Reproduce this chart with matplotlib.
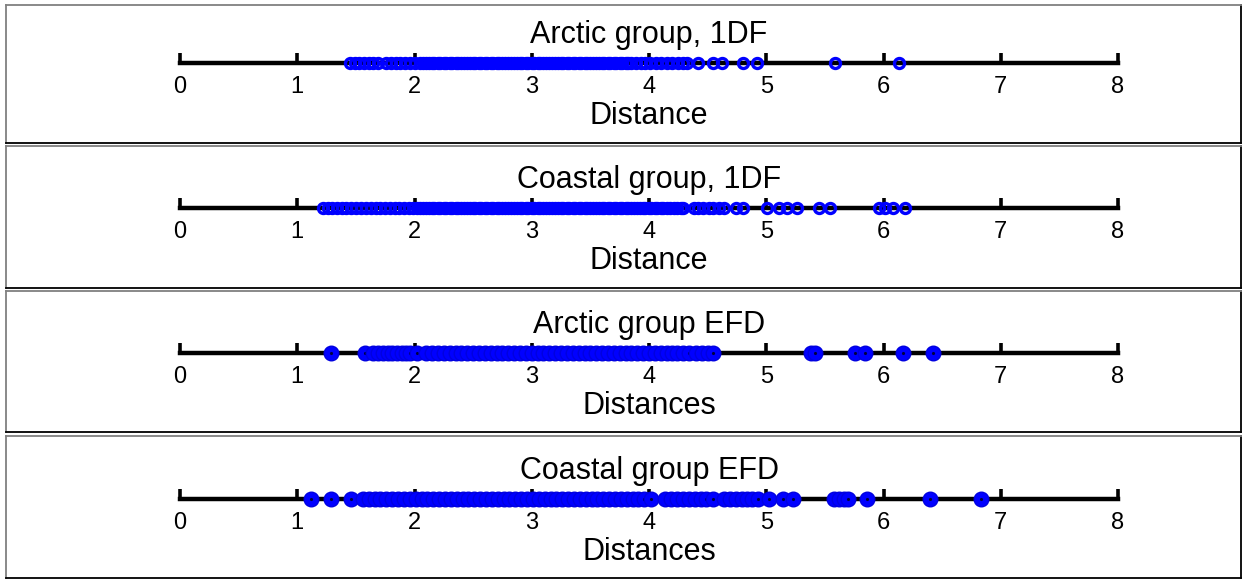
import matplotlib
matplotlib.use("Agg")
import matplotlib.pyplot as plt

W, H = 1242, 581

titles = ["Arctic group, 1DF", "Coastal group, 1DF", "Arctic group EFD", "Coastal group EFD"]
xlabels = ["Distance", "Distance", "Distances", "Distances"]
tick_values = [0, 1, 2, 3, 4, 5, 6, 7, 8]

arctic_1df = [
    1.45, 1.49, 1.53, 1.57, 1.61, 1.65, 1.69,
    1.76, 1.80, 1.84, 1.88, 1.92, 1.96, 2.00,
    2.05, 2.07, 2.10, 2.12, 2.15, 2.17, 2.20, 2.22, 2.25, 2.27,
    2.30, 2.32, 2.35, 2.37, 2.40, 2.42, 2.45, 2.47, 2.50, 2.52,
    2.55, 2.57, 2.60, 2.62, 2.65, 2.67, 2.70, 2.72, 2.75, 2.77,
    2.80, 2.82, 2.85, 2.87, 2.90, 2.92, 2.95, 2.97, 3.00, 3.02,
    3.05, 3.07, 3.10, 3.12, 3.15, 3.17, 3.20, 3.22, 3.25, 3.27,
    3.30, 3.32, 3.35, 3.37, 3.40, 3.42, 3.45, 3.47, 3.50, 3.52,
    3.55, 3.57, 3.60, 3.62, 3.65, 3.67, 3.70, 3.72, 3.75, 3.77,
    3.80, 3.82, 3.85,
    3.89, 3.93, 3.97, 4.01, 4.06, 4.10, 4.15, 4.20, 4.25, 4.29, 4.32,
    4.42, 4.55, 4.62, 4.80, 4.92, 5.59, 6.13,
]

coastal_1df = [
    1.22, 1.26, 1.30, 1.34, 1.38, 1.42, 1.46, 1.50, 1.54,
    1.59, 1.63, 1.67, 1.71, 1.75, 1.79, 1.83, 1.87, 1.91, 1.95, 1.99,
    2.02, 2.05, 2.07, 2.10, 2.12, 2.15, 2.17, 2.20, 2.22, 2.25, 2.27,
    2.30, 2.32, 2.35, 2.37, 2.40, 2.42, 2.45, 2.47, 2.50, 2.52,
    2.55, 2.57, 2.60, 2.62, 2.65, 2.67, 2.70, 2.72, 2.75, 2.77,
    2.80, 2.82, 2.85, 2.87, 2.90, 2.92, 2.95, 2.97, 3.00, 3.02,
    3.05, 3.07, 3.10, 3.12, 3.15, 3.17, 3.20, 3.22, 3.25, 3.27,
    3.30, 3.32, 3.35, 3.37, 3.40, 3.42, 3.45, 3.47, 3.50, 3.52,
    3.55, 3.57, 3.60, 3.62, 3.65, 3.67, 3.70, 3.72, 3.75, 3.77,
    3.80, 3.82, 3.85, 3.87, 3.90, 3.92, 3.95, 3.97, 4.00, 4.02,
    4.05, 4.07, 4.10, 4.12, 4.15, 4.18, 4.21, 4.24, 4.27, 4.29,
    4.38, 4.42, 4.46, 4.51, 4.55, 4.60, 4.64, 4.74, 4.80,
    5.01, 5.11, 5.18, 5.26, 5.45, 5.54, 5.96, 6.01, 6.08, 6.18,
]

arctic_efd = [
    1.29, 1.58,
    1.65, 1.69, 1.73, 1.77, 1.81, 1.85, 1.89, 1.93, 1.96, 2.02,
    2.10, 2.15, 2.20, 2.25, 2.30, 2.35, 2.40, 2.45, 2.50, 2.55,
    2.60, 2.65, 2.70, 2.75, 2.80, 2.85, 2.90, 2.95, 3.00, 3.05,
    3.10, 3.15, 3.20, 3.25, 3.30, 3.35, 3.40, 3.45, 3.50, 3.55,
    3.60, 3.65, 3.70, 3.75, 3.80, 3.85, 3.90, 3.95, 4.00, 4.05,
    4.10, 4.15, 4.20, 4.24,
    4.29, 4.34, 4.40, 4.45, 4.50, 4.55,
    5.38, 5.42, 5.76, 5.84, 6.17, 6.42,
]

coastal_efd = [
    1.12, 1.29, 1.46,
    1.56, 1.61, 1.66, 1.71, 1.76, 1.81, 1.86, 1.91, 1.96, 2.01,
    2.06, 2.11, 2.16, 2.21, 2.26, 2.31, 2.36, 2.41, 2.46, 2.51,
    2.56, 2.61, 2.66, 2.71, 2.76, 2.81, 2.86, 2.91, 2.96, 3.01,
    3.06, 3.11, 3.16, 3.21, 3.26, 3.31, 3.36, 3.41, 3.46, 3.51,
    3.56, 3.61, 3.66, 3.71, 3.76, 3.81, 3.86, 3.91, 3.96, 4.02,
    4.14, 4.19, 4.24, 4.29, 4.34, 4.39, 4.44, 4.49, 4.55,
    4.64, 4.69, 4.74, 4.79, 4.84, 4.88, 4.93, 5.02, 5.14, 5.23,
    5.58, 5.62, 5.66, 5.70, 5.86, 6.40, 6.83,
]

series = [arctic_1df, coastal_1df, arctic_efd, coastal_efd]
filled = [False, False, True, True]

# panel boxes in pixels (top, bottom) and the pixel positions of x = 0 and x = 8
panel_tops = [5, 146, 291, 436]
panel_bottoms = [143, 288, 432, 578]
line_rel = [58, 62, 62, 63]
x0_px, x8_px = 180, 1118
left_px, right_px = 6, 1241

px_per_unit = (x8_px - x0_px) / 8.0
xmin = -(x0_px - left_px) / px_per_unit
xmax = 8 + (right_px - x8_px) / px_per_unit

plt.rcParams["font.family"] = ["Liberation Sans", "DejaVu Sans"]

fig = plt.figure(figsize=(W / 100, H / 100), dpi=100)

for i in range(4):
    top, bot = panel_tops[i], panel_bottoms[i]
    ax = fig.add_axes([left_px / W, 1 - bot / H, (right_px - left_px) / W, (bot - top) / H])
    ax.set_xlim(xmin, xmax)
    ax.set_ylim(bot - top, 0)
    ax.set_xticks([])
    ax.set_yticks([])
    ax.spines["top"].set_color("#808080")
    ax.spines["left"].set_color("#808080")
    ax.spines["bottom"].set_color("#000000")
    ax.spines["right"].set_color("#000000")
    for side in ax.spines.values():
        side.set_linewidth(1.3)

    ly = line_rel[i]
    ax.plot([0, 8], [ly, ly], color="black", lw=3.2, solid_capstyle="projecting", zorder=2)
    for t in tick_values:
        ax.plot([t, t], [ly, ly - 10], color="black", lw=2.6, solid_capstyle="butt", zorder=2)
        ax.text(t, ly + 24, str(t), ha="center", va="center", fontsize=17)

    vals = series[i]
    if filled[i]:
        # each point drawn with its own centre dot, so that overlapping
        # neighbours hide the dots inside dense runs
        for k, v in enumerate(vals):
            ax.plot([v], [ly], "o", ms=10.5, mfc="#0000ff", mec="#0000e0", mew=1.0, zorder=3 + 2 * k)
            ax.plot([v], [ly], ".", ms=2.5, color="#000040", zorder=4 + 2 * k)
    else:
        ax.plot(vals, [ly] * len(vals), "o", ms=7.2, mfc="none", mec="#0000ff", mew=2.4, zorder=3)

    ax.text(4, ly - 28, titles[i], ha="center", va="center", fontsize=22)
    ax.text(4, ly + 53, xlabels[i], ha="center", va="center", fontsize=22)

fig.savefig("out.png", dpi=100)
